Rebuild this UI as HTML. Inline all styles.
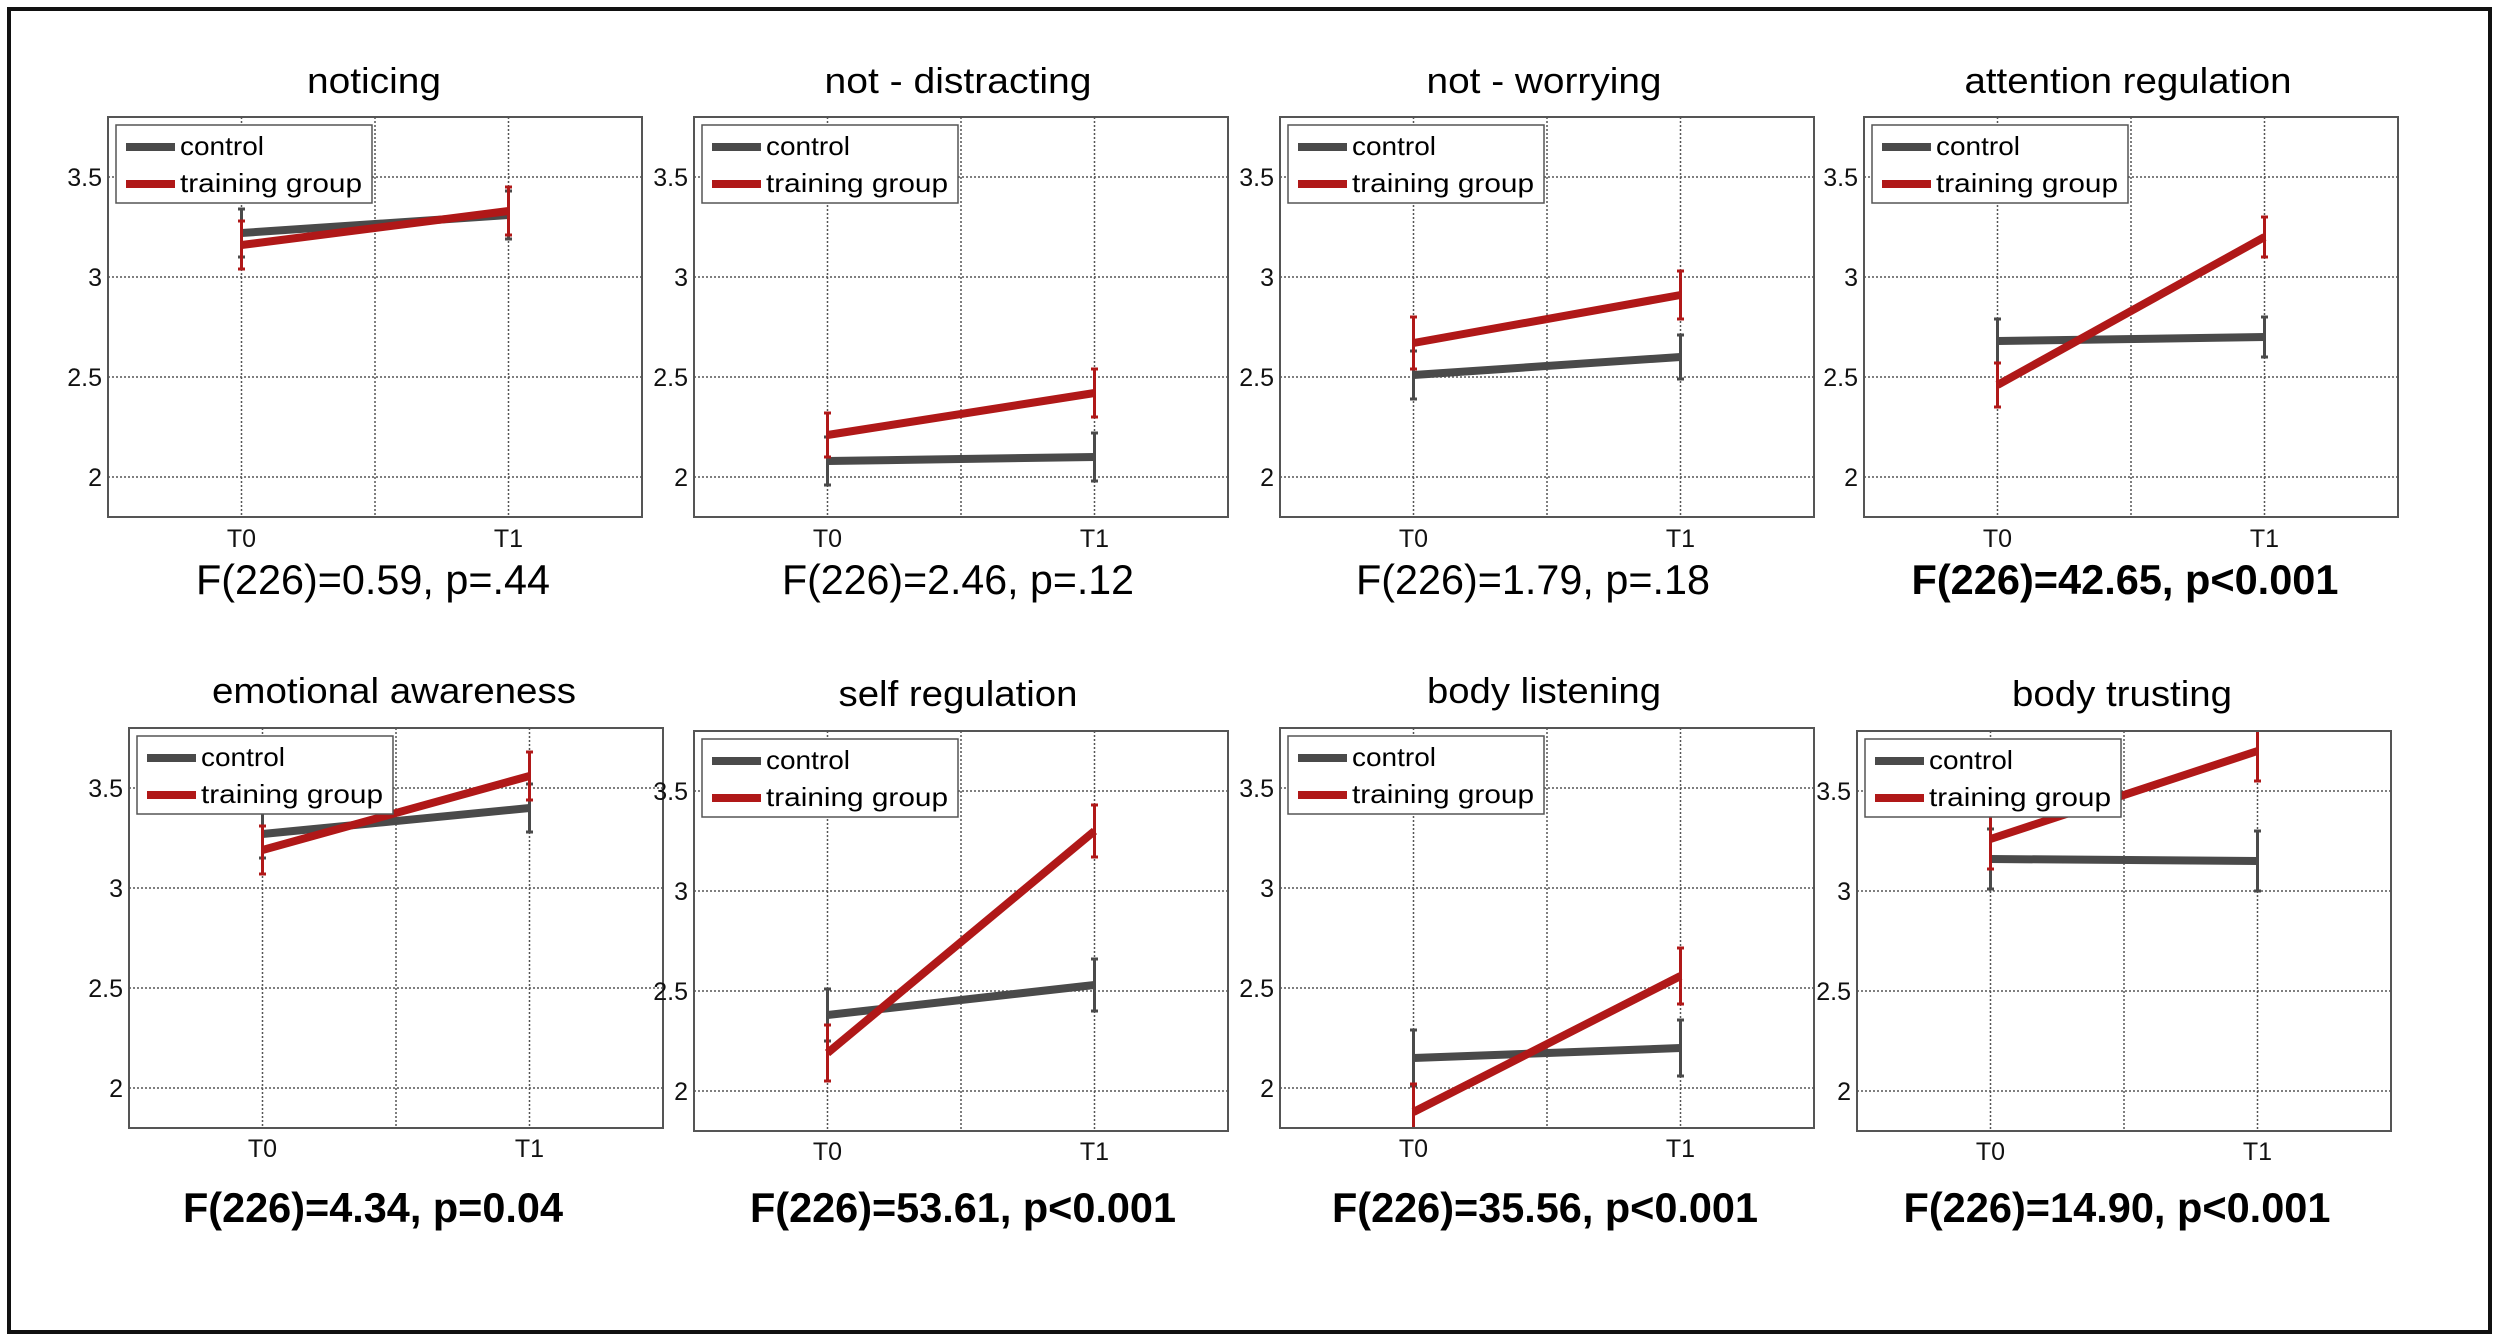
<!DOCTYPE html>
<html><head><meta charset="utf-8"><style>
html,body{margin:0;padding:0;background:#fff;}
svg{display:block;}
.tk{font-family:"Liberation Sans",Arial,sans-serif;font-size:25px;fill:#111;}
.xl{font-family:"Liberation Sans",Arial,sans-serif;font-size:25px;fill:#111;text-anchor:middle;}
.ti{font-family:"Liberation Sans",Arial,sans-serif;font-size:36px;fill:#000;text-anchor:middle;}
.f{font-family:"Liberation Sans",Arial,sans-serif;font-size:42px;fill:#000;text-anchor:middle;}
.fb{font-weight:bold;}
.lg{font-family:"Liberation Sans",Arial,sans-serif;font-size:26px;fill:#000;}
.g{stroke:#555;stroke-width:1.5;stroke-dasharray:2 2;fill:none;}
.ax{stroke:#555;stroke-width:2;fill:none;}
.c{stroke:#4a4a4a;stroke-width:8;fill:none;}
.r{stroke:#b01818;stroke-width:8;fill:none;}
.ce{stroke:#4a4a4a;stroke-width:3;fill:none;}
.re{stroke:#b01818;stroke-width:3;fill:none;}
</style></head><body>
<svg width="2500" height="1341" viewBox="0 0 2500 1341" xmlns="http://www.w3.org/2000/svg">
<rect x="0" y="0" width="2500" height="1341" fill="#fff"/>
<rect x="9" y="9" width="2481" height="1323" fill="none" stroke="#111" stroke-width="4"/>
<defs><clipPath id="cp"><rect x="0" y="0" width="534" height="400"/></clipPath></defs>

<g transform="translate(108,117)">
<rect width="534" height="400" fill="#fff"/>
<path class="g" d="M0 60H534M0 160H534M0 260H534M0 360H534M133.5 0V400M267 0V400M400.5 0V400"/>
<g clip-path="url(#cp)">
<path class="ce" d="M133.5 92V140M130 92h7M130 140h7M400.5 74V122M397 74h7M397 122h7"/>
<path class="c" d="M133.5 116L400.5 98"/>
<path class="re" d="M133.5 104V152M130 104h7M130 152h7M400.5 70V118M397 70h7M397 118h7"/>
<path class="r" d="M133.5 128L400.5 94"/>
</g>
<rect class="ax" width="534" height="400"/>
<text class="tk" x="-6" y="69" text-anchor="end">3.5</text><text class="tk" x="-6" y="169" text-anchor="end">3</text><text class="tk" x="-6" y="269" text-anchor="end">2.5</text><text class="tk" x="-6" y="369" text-anchor="end">2</text>
<text class="xl" x="133.5" y="430">T0</text><text class="xl" x="400.5" y="430">T1</text>
<rect x="8" y="8" width="256" height="78" fill="#fff" stroke="#555" stroke-width="1.5"/>
<path class="c" d="M18 30H67"/><path class="r" d="M18 67H67"/>
<text class="lg" x="72" y="38" textLength="84" lengthAdjust="spacingAndGlyphs">control</text>
<text class="lg" x="72" y="75" textLength="182" lengthAdjust="spacingAndGlyphs">training group</text>
<text class="ti" x="266" y="-24" textLength="134" lengthAdjust="spacingAndGlyphs">noticing</text>
<text class="f" x="265" y="477" textLength="354" lengthAdjust="spacingAndGlyphs">F(226)=0.59, p=.44</text>
</g>

<g transform="translate(694,117)">
<rect width="534" height="400" fill="#fff"/>
<path class="g" d="M0 60H534M0 160H534M0 260H534M0 360H534M133.5 0V400M267 0V400M400.5 0V400"/>
<g clip-path="url(#cp)">
<path class="ce" d="M133.5 320V368M130 320h7M130 368h7M400.5 316V364M397 316h7M397 364h7"/>
<path class="c" d="M133.5 344L400.5 340"/>
<path class="re" d="M133.5 296V340M130 296h7M130 340h7M400.5 252V300M397 252h7M397 300h7"/>
<path class="r" d="M133.5 318L400.5 276"/>
</g>
<rect class="ax" width="534" height="400"/>
<text class="tk" x="-6" y="69" text-anchor="end">3.5</text><text class="tk" x="-6" y="169" text-anchor="end">3</text><text class="tk" x="-6" y="269" text-anchor="end">2.5</text><text class="tk" x="-6" y="369" text-anchor="end">2</text>
<text class="xl" x="133.5" y="430">T0</text><text class="xl" x="400.5" y="430">T1</text>
<rect x="8" y="8" width="256" height="78" fill="#fff" stroke="#555" stroke-width="1.5"/>
<path class="c" d="M18 30H67"/><path class="r" d="M18 67H67"/>
<text class="lg" x="72" y="38" textLength="84" lengthAdjust="spacingAndGlyphs">control</text>
<text class="lg" x="72" y="75" textLength="182" lengthAdjust="spacingAndGlyphs">training group</text>
<text class="ti" x="264" y="-24" textLength="267" lengthAdjust="spacingAndGlyphs">not - distracting</text>
<text class="f" x="264" y="477" textLength="352" lengthAdjust="spacingAndGlyphs">F(226)=2.46, p=.12</text>
</g>

<g transform="translate(1280,117)">
<rect width="534" height="400" fill="#fff"/>
<path class="g" d="M0 60H534M0 160H534M0 260H534M0 360H534M133.5 0V400M267 0V400M400.5 0V400"/>
<g clip-path="url(#cp)">
<path class="ce" d="M133.5 234V282M130 234h7M130 282h7M400.5 218V262M397 218h7M397 262h7"/>
<path class="c" d="M133.5 258L400.5 240"/>
<path class="re" d="M133.5 200V252M130 200h7M130 252h7M400.5 154V202M397 154h7M397 202h7"/>
<path class="r" d="M133.5 226L400.5 178"/>
</g>
<rect class="ax" width="534" height="400"/>
<text class="tk" x="-6" y="69" text-anchor="end">3.5</text><text class="tk" x="-6" y="169" text-anchor="end">3</text><text class="tk" x="-6" y="269" text-anchor="end">2.5</text><text class="tk" x="-6" y="369" text-anchor="end">2</text>
<text class="xl" x="133.5" y="430">T0</text><text class="xl" x="400.5" y="430">T1</text>
<rect x="8" y="8" width="256" height="78" fill="#fff" stroke="#555" stroke-width="1.5"/>
<path class="c" d="M18 30H67"/><path class="r" d="M18 67H67"/>
<text class="lg" x="72" y="38" textLength="84" lengthAdjust="spacingAndGlyphs">control</text>
<text class="lg" x="72" y="75" textLength="182" lengthAdjust="spacingAndGlyphs">training group</text>
<text class="ti" x="264" y="-24" textLength="235" lengthAdjust="spacingAndGlyphs">not - worrying</text>
<text class="f" x="253" y="477" textLength="354" lengthAdjust="spacingAndGlyphs">F(226)=1.79, p=.18</text>
</g>

<g transform="translate(1864,117)">
<rect width="534" height="400" fill="#fff"/>
<path class="g" d="M0 60H534M0 160H534M0 260H534M0 360H534M133.5 0V400M267 0V400M400.5 0V400"/>
<g clip-path="url(#cp)">
<path class="ce" d="M133.5 202V246M130 202h7M130 246h7M400.5 200V240M397 200h7M397 240h7"/>
<path class="c" d="M133.5 224L400.5 220"/>
<path class="re" d="M133.5 246V290M130 246h7M130 290h7M400.5 100V140M397 100h7M397 140h7"/>
<path class="r" d="M133.5 268L400.5 120"/>
</g>
<rect class="ax" width="534" height="400"/>
<text class="tk" x="-6" y="69" text-anchor="end">3.5</text><text class="tk" x="-6" y="169" text-anchor="end">3</text><text class="tk" x="-6" y="269" text-anchor="end">2.5</text><text class="tk" x="-6" y="369" text-anchor="end">2</text>
<text class="xl" x="133.5" y="430">T0</text><text class="xl" x="400.5" y="430">T1</text>
<rect x="8" y="8" width="256" height="78" fill="#fff" stroke="#555" stroke-width="1.5"/>
<path class="c" d="M18 30H67"/><path class="r" d="M18 67H67"/>
<text class="lg" x="72" y="38" textLength="84" lengthAdjust="spacingAndGlyphs">control</text>
<text class="lg" x="72" y="75" textLength="182" lengthAdjust="spacingAndGlyphs">training group</text>
<text class="ti" x="264" y="-24" textLength="327" lengthAdjust="spacingAndGlyphs">attention regulation</text>
<text class="f fb" x="261" y="477" textLength="427" lengthAdjust="spacingAndGlyphs">F(226)=42.65, p&lt;0.001</text>
</g>

<g transform="translate(129,728)">
<rect width="534" height="400" fill="#fff"/>
<path class="g" d="M0 60H534M0 160H534M0 260H534M0 360H534M133.5 0V400M267 0V400M400.5 0V400"/>
<g clip-path="url(#cp)">
<path class="ce" d="M133.5 82V130M130 82h7M130 130h7M400.5 56V104M397 56h7M397 104h7"/>
<path class="c" d="M133.5 106L400.5 80"/>
<path class="re" d="M133.5 98V146M130 98h7M130 146h7M400.5 24V72M397 24h7M397 72h7"/>
<path class="r" d="M133.5 122L400.5 48"/>
</g>
<rect class="ax" width="534" height="400"/>
<text class="tk" x="-6" y="69" text-anchor="end">3.5</text><text class="tk" x="-6" y="169" text-anchor="end">3</text><text class="tk" x="-6" y="269" text-anchor="end">2.5</text><text class="tk" x="-6" y="369" text-anchor="end">2</text>
<text class="xl" x="133.5" y="429">T0</text><text class="xl" x="400.5" y="429">T1</text>
<rect x="8" y="8" width="256" height="78" fill="#fff" stroke="#555" stroke-width="1.5"/>
<path class="c" d="M18 30H67"/><path class="r" d="M18 67H67"/>
<text class="lg" x="72" y="38" textLength="84" lengthAdjust="spacingAndGlyphs">control</text>
<text class="lg" x="72" y="75" textLength="182" lengthAdjust="spacingAndGlyphs">training group</text>
<text class="ti" x="265" y="-25" textLength="364" lengthAdjust="spacingAndGlyphs">emotional awareness</text>
<text class="f fb" x="244" y="494" textLength="380" lengthAdjust="spacingAndGlyphs">F(226)=4.34, p=0.04</text>
</g>

<g transform="translate(694,731)">
<rect width="534" height="400" fill="#fff"/>
<path class="g" d="M0 60H534M0 160H534M0 260H534M0 360H534M133.5 0V400M267 0V400M400.5 0V400"/>
<g clip-path="url(#cp)">
<path class="ce" d="M133.5 258V310M130 258h7M130 310h7M400.5 228V280M397 228h7M397 280h7"/>
<path class="c" d="M133.5 284L400.5 254"/>
<path class="re" d="M133.5 294V350M130 294h7M130 350h7M400.5 74V126M397 74h7M397 126h7"/>
<path class="r" d="M133.5 322L400.5 100"/>
</g>
<rect class="ax" width="534" height="400"/>
<text class="tk" x="-6" y="69" text-anchor="end">3.5</text><text class="tk" x="-6" y="169" text-anchor="end">3</text><text class="tk" x="-6" y="269" text-anchor="end">2.5</text><text class="tk" x="-6" y="369" text-anchor="end">2</text>
<text class="xl" x="133.5" y="429">T0</text><text class="xl" x="400.5" y="429">T1</text>
<rect x="8" y="8" width="256" height="78" fill="#fff" stroke="#555" stroke-width="1.5"/>
<path class="c" d="M18 30H67"/><path class="r" d="M18 67H67"/>
<text class="lg" x="72" y="38" textLength="84" lengthAdjust="spacingAndGlyphs">control</text>
<text class="lg" x="72" y="75" textLength="182" lengthAdjust="spacingAndGlyphs">training group</text>
<text class="ti" x="264" y="-25" textLength="239" lengthAdjust="spacingAndGlyphs">self regulation</text>
<text class="f fb" x="269" y="491" textLength="426" lengthAdjust="spacingAndGlyphs">F(226)=53.61, p&lt;0.001</text>
</g>

<g transform="translate(1280,728)">
<rect width="534" height="400" fill="#fff"/>
<path class="g" d="M0 60H534M0 160H534M0 260H534M0 360H534M133.5 0V400M267 0V400M400.5 0V400"/>
<g clip-path="url(#cp)">
<path class="ce" d="M133.5 302V358M130 302h7M130 358h7M400.5 292V348M397 292h7M397 348h7"/>
<path class="c" d="M133.5 330L400.5 320"/>
<path class="re" d="M133.5 356V412M130 356h7M400.5 220V276M397 220h7M397 276h7"/>
<path class="r" d="M133.5 384L400.5 248"/>
</g>
<rect class="ax" width="534" height="400"/>
<text class="tk" x="-6" y="69" text-anchor="end">3.5</text><text class="tk" x="-6" y="169" text-anchor="end">3</text><text class="tk" x="-6" y="269" text-anchor="end">2.5</text><text class="tk" x="-6" y="369" text-anchor="end">2</text>
<text class="xl" x="133.5" y="429">T0</text><text class="xl" x="400.5" y="429">T1</text>
<rect x="8" y="8" width="256" height="78" fill="#fff" stroke="#555" stroke-width="1.5"/>
<path class="c" d="M18 30H67"/><path class="r" d="M18 67H67"/>
<text class="lg" x="72" y="38" textLength="84" lengthAdjust="spacingAndGlyphs">control</text>
<text class="lg" x="72" y="75" textLength="182" lengthAdjust="spacingAndGlyphs">training group</text>
<text class="ti" x="264" y="-25" textLength="234" lengthAdjust="spacingAndGlyphs">body listening</text>
<text class="f fb" x="265" y="494" textLength="426" lengthAdjust="spacingAndGlyphs">F(226)=35.56, p&lt;0.001</text>
</g>

<g transform="translate(1857,731)">
<rect width="534" height="400" fill="#fff"/>
<path class="g" d="M0 60H534M0 160H534M0 260H534M0 360H534M133.5 0V400M267 0V400M400.5 0V400"/>
<g clip-path="url(#cp)">
<path class="ce" d="M133.5 98V158M130 98h7M130 158h7M400.5 100V160M397 100h7M397 160h7"/>
<path class="c" d="M133.5 128L400.5 130"/>
<path class="re" d="M133.5 78V138M130 78h7M130 138h7M400.5 -10V50M397 50h7"/>
<path class="r" d="M133.5 108L400.5 20"/>
</g>
<rect class="ax" width="534" height="400"/>
<text class="tk" x="-6" y="69" text-anchor="end">3.5</text><text class="tk" x="-6" y="169" text-anchor="end">3</text><text class="tk" x="-6" y="269" text-anchor="end">2.5</text><text class="tk" x="-6" y="369" text-anchor="end">2</text>
<text class="xl" x="133.5" y="429">T0</text><text class="xl" x="400.5" y="429">T1</text>
<rect x="8" y="8" width="256" height="78" fill="#fff" stroke="#555" stroke-width="1.5"/>
<path class="c" d="M18 30H67"/><path class="r" d="M18 67H67"/>
<text class="lg" x="72" y="38" textLength="84" lengthAdjust="spacingAndGlyphs">control</text>
<text class="lg" x="72" y="75" textLength="182" lengthAdjust="spacingAndGlyphs">training group</text>
<text class="ti" x="265" y="-25" textLength="220" lengthAdjust="spacingAndGlyphs">body trusting</text>
<text class="f fb" x="260" y="491" textLength="427" lengthAdjust="spacingAndGlyphs">F(226)=14.90, p&lt;0.001</text>
</g>
</svg>
</body></html>
